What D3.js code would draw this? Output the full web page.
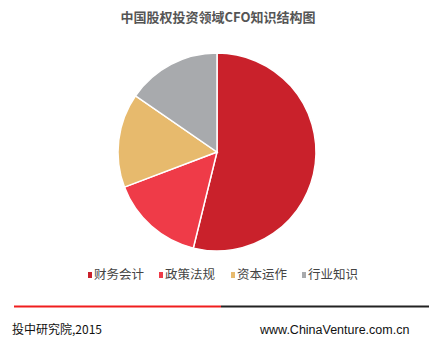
<!DOCTYPE html>
<html>
<head>
<meta charset="utf-8">
<script src="https://cdn.jsdelivr.net/npm/d3@7"></script>
<style>
  body { margin: 0; background: #fff; }
  svg { display: block; }
</style>
</head>
<body>
<div id="chart"></div>
<script>
var categories = ["财务会计", "政策法规", "资本运作", "行业知识"];
var values = [7, 2, 2, 2];
var colors = ["#c9212b", "#ef3b48", "#e7ba6d", "#a8aaad"];

var width = 435, height = 339;
var cx = 217, cy = 152, radius = 99;

var svg = d3.select("#chart").append("svg")
    .attr("width", width)
    .attr("height", height);

// title
svg.append("text")
    .attr("x", 218).attr("y", 22)
    .attr("text-anchor", "middle")
    .style("font-family", "'Noto Sans CJK SC', sans-serif")
    .style("font-weight", "bold")
    .style("font-size", "13px")
    .style("fill", "#555")
    .text("中国股权投资领域CFO知识结构图");

var data = categories.map(function(c, i) { return {name: c, value: values[i], color: colors[i]}; });

var pie = d3.pie().sort(null).value(function(d) { return d.value; });
var arc = d3.arc().innerRadius(0).outerRadius(radius);

var g = svg.append("g").attr("transform", "translate(" + cx + "," + cy + ")");
g.selectAll("path")
    .data(pie(data))
  .enter().append("path")
    .attr("d", arc)
    .attr("fill", function(d) { return d.data.color; })
    .attr("stroke", "#fff")
    .attr("stroke-width", 1.5);

// legend
var legendX = [88, 159, 231, 302];
var legend = svg.selectAll(".legend")
    .data(data)
  .enter().append("g")
    .attr("class", "legend")
    .attr("transform", function(d, i) { return "translate(" + legendX[i] + ",274)"; });
legend.append("rect")
    .attr("x", 0).attr("y", -2)
    .attr("width", 4).attr("height", 6)
    .attr("fill", function(d) { return d.color; });
legend.append("text")
    .attr("x", 6).attr("y", 5)
    .style("font-family", "'Noto Sans CJK SC', sans-serif")
    .style("font-size", "12.5px")
    .style("fill", "#444")
    .text(function(d) { return d.name; });

// footer line
svg.append("line")
    .attr("x1", 14).attr("x2", 221).attr("y1", 306.5).attr("y2", 306.5)
    .attr("stroke", "#f01e1e").attr("stroke-width", 2);
svg.append("line")
    .attr("x1", 221).attr("x2", 429).attr("y1", 306.5).attr("y2", 306.5)
    .attr("stroke", "#222").attr("stroke-width", 2);

svg.append("text")
    .attr("x", 12).attr("y", 334)
    .style("font-family", "'Noto Sans CJK SC', sans-serif")
    .style("font-size", "12px")
    .style("fill", "#111")
    .text("投中研究院,2015");
svg.append("text")
    .attr("x", 260).attr("y", 334)
    .style("font-family", "'Liberation Sans', Arial, sans-serif")
    .style("font-size", "12.5px")
    .style("fill", "#111")
    .text("www.ChinaVenture.com.cn");
</script>
</body>
</html>
